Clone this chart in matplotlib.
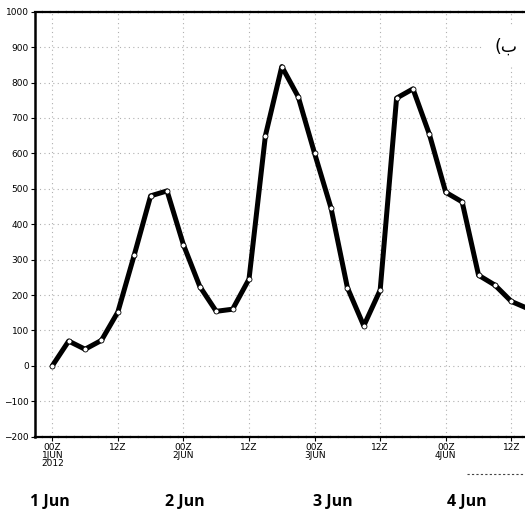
import matplotlib.pyplot as plt
from matplotlib.lines import Line2D

# 3-hourly values from 00Z 1JUN 2012
hours = [0, 3, 6, 9, 12, 15, 18, 21, 24, 27, 30, 33, 36, 39, 42, 45, 48, 51,
         54, 57, 60, 63, 66, 69, 72, 75, 78, 81, 84, 87]
values = [0, 70, 47, 72, 152, 313, 480, 494, 342, 224, 154, 160, 245, 650, 845,
          760, 600, 446, 221, 113, 214, 756, 782, 654, 490, 463, 256, 228, 182, 162]

tick_hours = [0, 12, 24, 36, 48, 60, 72, 84]
tick_labels = ['00Z\n1JUN\n2012', '12Z', '00Z\n2JUN', '12Z', '00Z\n3JUN', '12Z',
               '00Z\n4JUN', '12Z']
y_ticks = list(range(-200, 1001, 100))
day_labels = ['1 Jun', '2 Jun', '3 Jun', '4 Jun']
day_x = [50, 185, 333, 467]  # pixel centres of the bold labels under the chart

W, H = 525, 514
fig = plt.figure(figsize=(W / 100, H / 100), dpi=100)
ax = fig.add_axes([35 / W, 1 - 436.7 / H, 1 - 35 / W, (436.7 - 11.7) / H])

ax.plot(hours, values, color='black', lw=3.6, solid_capstyle='round',
        solid_joinstyle='round', zorder=3)
ax.plot(hours, values, ls='none', marker='o', ms=3.6, mfc='white', mec='black',
        mew=0.6, zorder=4)

ax.set_xlim(-3.16, 86.5)
ax.set_ylim(-200, 1000)
ax.set_yticks(y_ticks)
ax.set_yticklabels([str(v).replace('-', '\u2212') for v in y_ticks])
ax.set_xticks(tick_hours)
ax.set_xticklabels(tick_labels, linespacing=0.85)

for lab in ax.get_xticklabels() + ax.get_yticklabels():
    lab.set_fontfamily(['Liberation Sans Narrow', 'DejaVu Sans'])
    lab.set_fontsize(6.5)
ax.tick_params(axis='both', length=3, width=0.8, pad=1.5, colors='black')

ax.grid(True, color='#b0b0b0', ls=(0, (1, 3)), lw=0.8)
ax.set_axisbelow(True)

ax.spines['left'].set_linewidth(1.8)
for s in ['top', 'bottom']:
    ax.spines[s].set_linewidth(1.6)
    ax.spines[s].set_linestyle((0, (3, 0.6)))
ax.spines['right'].set_visible(False)

ax.text(0.985, 0.917, '(\u0628', transform=ax.transAxes, ha='right', va='center',
        fontsize=12.5, family=['DejaVu Sans'], zorder=5,
        bbox=dict(facecolor='white', edgecolor='none', pad=8))

for lab, px in zip(day_labels, day_x):
    fig.text(px / W, 1 - 502 / H, lab, ha='center', va='center', fontsize=11.5,
             fontweight='bold', family=['Open Sans', 'DejaVu Sans'])

fig.lines.append(Line2D([467 / W, 1.0], [1 - 474 / H] * 2, transform=fig.transFigure,
                        color='#444444', lw=0.8, ls=(0, (2, 2))))

fig.savefig('out.png', dpi=100)
